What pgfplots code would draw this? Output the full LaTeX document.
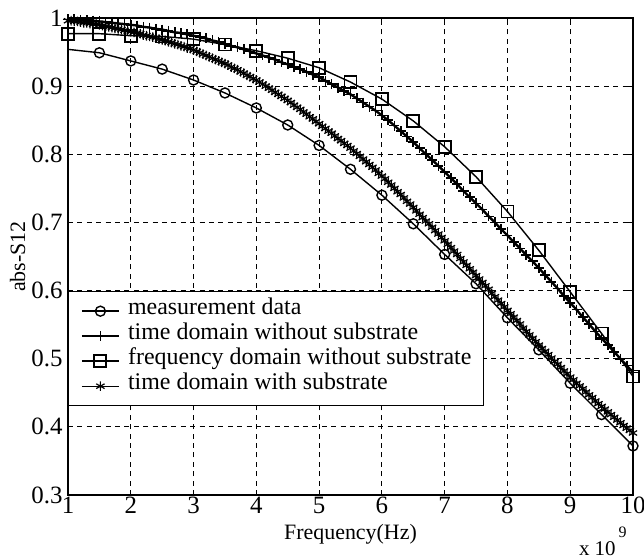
\documentclass[border=0pt,11pt]{standalone}
\usepackage{fontspec}
\setmainfont{Liberation Serif}
\usepackage{pgfplots}
\pgfplotsset{compat=1.18}
\usepackage{pgfplotstable}

\pgfplotstableread{
x y
1.0 0.954
1.5 0.949
2.0 0.937
2.5 0.925
3.0 0.909
3.5 0.890
4.0 0.868
4.5 0.843
5.0 0.813
5.5 0.778
6.0 0.740
6.5 0.698
7.0 0.653
7.5 0.610
8.0 0.560
8.5 0.513
9.0 0.464
9.5 0.418
10.0 0.372
}\meas

\pgfplotstableread{
x y
1.0 0.977
1.5 0.977
2.0 0.974
2.5 0.973
3.0 0.969
3.5 0.961
4.0 0.952
4.5 0.941
5.0 0.927
5.5 0.906
6.0 0.881
6.5 0.849
7.0 0.811
7.5 0.767
8.0 0.716
8.5 0.659
9.0 0.598
9.5 0.537
10.0 0.474
}\freqwo

\pgfplotstableread{
x y
1.0 .998
1.1 .998
1.2 .997
1.3 .997
1.4 .996
1.5 .995
1.6 .994
1.7 .993
1.8 .992
1.9 .991
2.0 .990
2.1 .989
2.2 .987
2.3 .986
2.4 .984
2.5 .983
2.6 .981
2.7 .979
2.8 .978
2.9 .976
3.0 .974
3.1 .972
3.2 .970
3.3 .967
3.4 .965
3.5 .962
3.6 .959
3.7 .957
3.8 .954
3.9 .951
4.0 .948
4.1 .945
4.2 .942
4.3 .939
4.4 .935
4.5 .932
4.6 .928
4.7 .925
4.8 .921
4.9 .917
5.0 .913
5.1 .908
5.2 .903
5.3 .898
5.4 .893
5.5 .888
5.6 .882
5.7 .876
5.8 .870
5.9 .864
6.0 .857
6.1 .850
6.2 .842
6.3 .834
6.4 .826
6.5 .818
6.6 .809
6.7 .800
6.8 .792
6.9 .783
7.0 .774
7.1 .765
7.2 .756
7.3 .746
7.4 .737
7.5 .728
7.6 .719
7.7 .709
7.8 .700
7.9 .690
8.0 .681
8.1 .671
8.2 .662
8.3 .652
8.4 .643
8.5 .633
8.6 .623
8.7 .613
8.8 .603
8.9 .592
9.0 .582
9.1 .572
9.2 .561
9.3 .551
9.4 .540
9.5 .530
9.6 .520
9.7 .510
9.8 .500
9.9 .490
10.0 .480
}\timewo

\pgfplotstableread{
x y
1.00 .996
1.05 .996
1.10 .995
1.15 .995
1.20 .994
1.25 .993
1.30 .993
1.35 .992
1.40 .991
1.45 .991
1.50 .990
1.55 .989
1.60 .988
1.65 .987
1.70 .986
1.75 .985
1.80 .984
1.85 .983
1.90 .982
1.95 .981
2.00 .980
2.05 .979
2.10 .978
2.15 .977
2.20 .975
2.25 .974
2.30 .973
2.35 .972
2.40 .971
2.45 .969
2.50 .968
2.55 .967
2.60 .965
2.65 .964
2.70 .962
2.75 .961
2.80 .959
2.85 .958
2.90 .956
2.95 .955
3.00 .953
3.05 .951
3.10 .949
3.15 .947
3.20 .945
3.25 .943
3.30 .941
3.35 .939
3.40 .937
3.45 .935
3.50 .933
3.55 .931
3.60 .928
3.65 .926
3.70 .924
3.75 .921
3.80 .919
3.85 .916
3.90 .914
3.95 .911
4.00 .909
4.05 .906
4.10 .903
4.15 .900
4.20 .897
4.25 .894
4.30 .891
4.35 .888
4.40 .885
4.45 .882
4.50 .879
4.55 .876
4.60 .872
4.65 .869
4.70 .866
4.75 .862
4.80 .859
4.85 .855
4.90 .852
4.95 .848
5.00 .845
5.05 .841
5.10 .838
5.15 .834
5.20 .831
5.25 .827
5.30 .823
5.35 .820
5.40 .816
5.45 .813
5.50 .809
5.55 .805
5.60 .801
5.65 .797
5.70 .793
5.75 .789
5.80 .785
5.85 .781
5.90 .777
5.95 .772
6.00 .768
6.05 .764
6.10 .759
6.15 .755
6.20 .750
6.25 .745
6.30 .741
6.35 .736
6.40 .731
6.45 .727
6.50 .722
6.55 .717
6.60 .712
6.65 .707
6.70 .702
6.75 .698
6.80 .693
6.85 .688
6.90 .683
6.95 .678
7.00 .673
7.05 .668
7.10 .663
7.15 .658
7.20 .653
7.25 .647
7.30 .642
7.35 .637
7.40 .632
7.45 .627
7.50 .622
7.55 .617
7.60 .612
7.65 .607
7.70 .602
7.75 .596
7.80 .591
7.85 .586
7.90 .581
7.95 .576
8.00 .571
8.05 .566
8.10 .561
8.15 .556
8.20 .551
8.25 .545
8.30 .540
8.35 .535
8.40 .530
8.45 .525
8.50 .520
8.55 .515
8.60 .511
8.65 .506
8.70 .501
8.75 .496
8.80 .492
8.85 .487
8.90 .482
8.95 .478
9.00 .473
9.05 .469
9.10 .464
9.15 .460
9.20 .456
9.25 .451
9.30 .447
9.35 .443
9.40 .438
9.45 .434
9.50 .430
9.55 .426
9.60 .422
9.65 .418
9.70 .414
9.75 .410
9.80 .406
9.85 .402
9.90 .398
9.95 .395
10.00 .391
}\timewith

\begin{document}
\fontsize{11}{13}\selectfont
\begin{tikzpicture}
\path[use as bounding box] (-34bp,-31.5bp) rectangle (288bp,247.5bp);
\begin{axis}[
  scale only axis,
  width=282.5bp, height=238.5bp,
  xmin=1, xmax=10, ymin=0.3, ymax=1,
  xtick={1,2,3,4,5,6,7,8,9,10},
  ytick={0.3,0.4,0.5,0.6,0.7,0.8,0.9,1.0},
  xtick pos=both, ytick pos=both,
  tick align=inside,
  major tick length=2.5bp,
  tick style={line width=0.6bp, black},
  axis line style={line width=1bp},
  grid=major,
  major grid style={line width=0.45bp, black, dash pattern=on 2.5bp off 2.2bp},
  /pgf/number format/assume math mode=true,
  yticklabel style={/pgf/number format/fixed, /pgf/number format/precision=1, inner xsep=2.5bp, font=\fontsize{12.5}{14}\selectfont},
  xticklabel style={inner ysep=1bp, font=\fontsize{12.5}{14}\selectfont},
  scaled x ticks=false,
  clip=false,
  xlabel={Frequency(Hz)},
  xlabel style={at={(axis description cs:0.5,-0.0943)}, anchor=base, font=\fontsize{11}{13}\selectfont},
  ylabel={abs-S12},
  ylabel style={at={(axis description cs:-0.0761,0.5)}, anchor=base, font=\fontsize{11}{13}\selectfont},
  legend cell align=left,
  legend image code/.code={\draw[#1, mark indices={2}] plot coordinates {(0bp,0bp) (9.25bp,0bp) (18.5bp,0bp)};},
  legend style={at={(axis description cs:0,0.4277)}, anchor=north west,
    draw=black, line width=0.7bp, fill=white,
    inner xsep=6bp, inner ysep=3.5bp, row sep=0pt, column sep=4bp,
    font=\fontsize{12}{14}\selectfont,
    nodes={inner sep=0pt, text height=8bp, text depth=4.5bp}},
]
\addplot[black, line width=0.7bp, mark=o, mark size=2.5bp, mark options={line width=0.7bp}, mark indices={2,3,4,5,6,7,8,9,10,11,12,13,14,15,16,17,18,19}] table {\meas};
\addlegendentry{measurement data}
\addplot[black, line width=1.2bp, mark=+, mark size=2.5bp, mark options={line width=0.8bp}] table {\timewo};
\addlegendentry{time domain without substrate}
\addplot[black, line width=0.7bp, mark=square, mark size=3bp, mark options={line width=0.9bp}] table {\freqwo};
\addlegendentry{frequency domain without substrate}
\addplot[black, line width=0.5bp, mark=asterisk, mark size=2.4bp, mark options={line width=0.6bp}] table {\timewith};
\addlegendentry{time domain with substrate}
\node[anchor=base east, inner sep=0pt, font=\fontsize{10.5}{12}\selectfont] at (axis description cs:0.9894,-0.1258) {x 10\hspace{1.5bp}\raisebox{9bp}{\fontsize{8}{9}\selectfont 9}};
\end{axis}
\end{tikzpicture}
\end{document}
